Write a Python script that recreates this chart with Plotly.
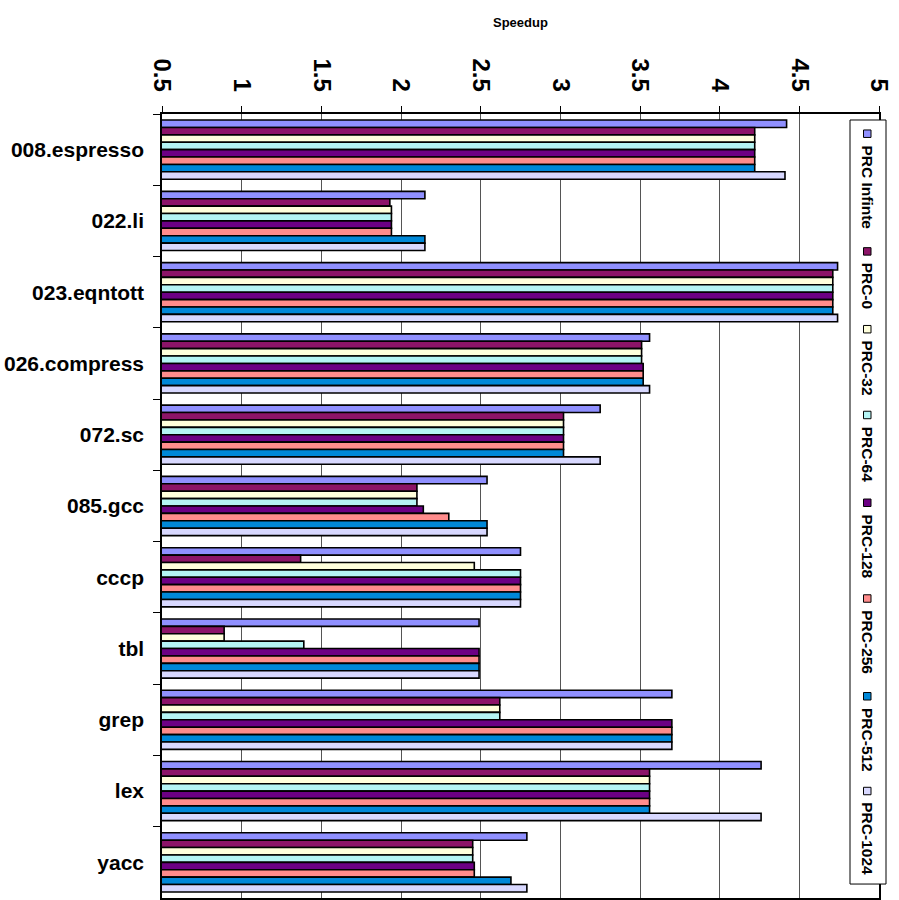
import plotly.graph_objects as go

categories = ["008.espresso", "022.li", "023.eqntott", "026.compress", "072.sc",
              "085.gcc", "cccp", "tbl", "grep", "lex", "yacc"]
series_names = ["PRC Infinte", "PRC-0", "PRC-32", "PRC-64", "PRC-128",
                "PRC-256", "PRC-512", "PRC-1024"]

prc_inf = [4.42, 2.15, 4.74, 3.56, 3.25, 2.54, 2.75, 2.49, 3.70, 4.26, 2.79]
prc_0 = [4.22, 1.93, 4.71, 3.51, 3.02, 2.10, 1.37, 0.89, 2.62, 3.56, 2.45]
prc_32 = [4.22, 1.94, 4.71, 3.51, 3.02, 2.10, 2.46, 0.89, 2.62, 3.56, 2.45]
prc_64 = [4.22, 1.94, 4.71, 3.51, 3.02, 2.10, 2.75, 1.39, 2.62, 3.56, 2.45]
prc_128 = [4.22, 1.94, 4.71, 3.52, 3.02, 2.14, 2.75, 2.49, 3.70, 3.56, 2.46]
prc_256 = [4.22, 1.94, 4.71, 3.52, 3.02, 2.30, 2.75, 2.49, 3.70, 3.56, 2.46]
prc_512 = [4.22, 2.15, 4.71, 3.52, 3.02, 2.54, 2.75, 2.49, 3.70, 3.56, 2.69]
prc_1024 = [4.41, 2.15, 4.74, 3.56, 3.25, 2.54, 2.75, 2.49, 3.70, 4.26, 2.79]

tick_vals = [0.5, 1, 1.5, 2, 2.5, 3, 3.5, 4, 4.5, 5]
tick_text = ["0.5", "1", "1.5", "2", "2.5", "3", "3.5", "4", "4.5", "5"]

all_series = [prc_inf, prc_0, prc_32, prc_64, prc_128, prc_256, prc_512, prc_1024]
colors = ["#9090FF", "#8C1468", "#FFFFDC", "#B4F4F4", "#6C0084", "#FF8C8C",
          "#0088D8", "#D8D8FF"]

fig = go.Figure()
for name, vals, col in zip(series_names, all_series, colors):
    fig.add_trace(go.Bar(
        y=categories, x=vals, name=name, orientation="h",
        marker=dict(color=col, line=dict(color="black", width=1.6)),
        showlegend=False,
    ))

L, T, W, H = 162, 114, 717, 786
px = lambda x: (x - L) / W
py = lambda y: (T + H - y) / H

shapes = [dict(type="rect", xref="paper", yref="paper",
               x0=px(850), x1=px(886), y0=py(886), y1=py(120),
               fillcolor="white", line=dict(color="black", width=1), layer="above")]
annotations = [dict(text="<b>Speedup</b>", xref="paper", yref="paper",
                    x=px(520), y=py(22), xanchor="center", yanchor="middle",
                    showarrow=False,
                    font=dict(family="Liberation Sans, Arial", size=13, color="black"))]

starts = [130, 248, 326, 412, 500, 596, 694, 789]
for s, name, col in zip(starts, series_names, colors):
    shapes.append(dict(type="rect", xref="paper", yref="paper",
                       x0=px(863.5), x1=px(871), y0=py(s + 7.5), y1=py(s),
                       fillcolor=col, line=dict(color="black", width=1), layer="above"))
    annotations.append(dict(text="<b>" + name + "</b>", xref="paper", yref="paper",
                            x=px(867.5), y=py(s + 13), xanchor="center", yanchor="top",
                            textangle=90, showarrow=False,
                            font=dict(family="Liberation Sans, Arial", size=15.5,
                                      color="black")))

fig.update_layout(
    width=899, height=900,
    margin=dict(l=L, r=899 - L - W, t=T, b=900 - T - H, pad=0),
    paper_bgcolor="white", plot_bgcolor="white",
    barmode="group", bargap=0.17, bargroupgap=0,
    shapes=shapes, annotations=annotations,
    xaxis=dict(side="top", range=[0.5, 5], tickvals=tick_vals, ticktext=tick_text,
               tickangle=90, showgrid=True, gridcolor="#555555", gridwidth=1,
               showline=True, linecolor="black", linewidth=1.5, mirror=True,
               ticks="outside", ticklen=6, tickcolor="black", zeroline=False,
               ticklabelstandoff=6,
               tickfont=dict(family="Liberation Sans, Arial", size=24, color="black",
                             weight="bold")),
    yaxis=dict(autorange="reversed", showline=True, linecolor="black", linewidth=1.5,
               mirror=True, ticks="outside", ticklen=7, tickcolor="black",
               tickson="boundaries", showgrid=False, ticklabelstandoff=12,
               tickfont=dict(family="Liberation Sans Narrow, Arial Narrow, Liberation Sans",
                             size=21, color="black", weight="bold")),
)

fig.write_html("out.html")
